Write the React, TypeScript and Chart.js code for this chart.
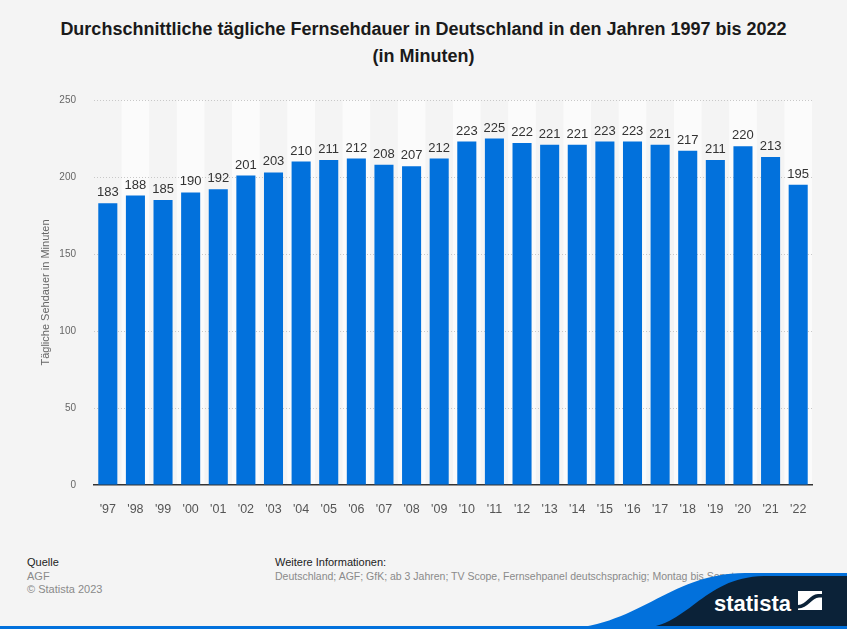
import React, { useEffect, useRef } from "react";
import { Chart, registerables } from "chart.js";

Chart.register(...registerables);

const years: string[] = ["'97", "'98", "'99", "'00", "'01", "'02", "'03", "'04", "'05", "'06", "'07", "'08", "'09", "'10", "'11", "'12", "'13", "'14", "'15", "'16", "'17", "'18", "'19", "'20", "'21", "'22"];
const minutes: number[] = [183, 188, 185, 190, 192, 201, 203, 210, 211, 212, 208, 207, 212, 223, 225, 222, 221, 221, 223, 223, 221, 217, 211, 220, 213, 195];
const yTicks: number[] = [0, 50, 100, 150, 200, 250];

const titleLines: string[] = [
  "Durchschnittliche tägliche Fernsehdauer in Deutschland in den Jahren 1997 bis 2022",
  "(in Minuten)",
];
const yAxisTitle = "Tägliche Sehdauer in Minuten";

const FONT = "'Liberation Sans', Arial, Helvetica, sans-serif";
const BLUE = "#0271dc";
const NAVY = "#0b2238";

const stripePlugin = {
  id: "stripes",
  beforeDraw(chart: any) {
    const { ctx, chartArea } = chart;
    const x = chart.scales.x;
    const n = years.length;
    const w = (chartArea.right - chartArea.left) / n;
    ctx.save();
    ctx.fillStyle = "#fbfbfb";
    for (let i = 1; i < n; i += 2) {
      const cx = x.getPixelForValue(i);
      ctx.fillRect(cx - w / 2, chartArea.top, w, chartArea.bottom - chartArea.top);
    }
    ctx.restore();
  },
};

const labelPlugin = {
  id: "valueLabels",
  afterDatasetsDraw(chart: any) {
    const { ctx } = chart;
    const meta = chart.getDatasetMeta(0);
    ctx.save();
    ctx.font = `13px ${FONT}`;
    ctx.fillStyle = "#333333";
    ctx.textAlign = "center";
    ctx.textBaseline = "bottom";
    meta.data.forEach((el: any, i: number) => {
      ctx.fillText(String(minutes[i]), el.x, el.y - 4);
    });
    ctx.restore();
  },
};

export default function App() {
  const ref = useRef<HTMLCanvasElement>(null);

  useEffect(() => {
    if (!ref.current) return;
    const chart = new Chart(ref.current, {
      type: "bar",
      data: {
        labels: years,
        datasets: [
          {
            data: minutes,
            backgroundColor: BLUE,
            borderWidth: 0,
            categoryPercentage: 1,
            barPercentage: 0.69,
          },
        ],
      },
      options: {
        animation: false,
        responsive: false,
        devicePixelRatio: 1,
        layout: { padding: { top: 100, right: 35, bottom: 0, left: 39 } },
        plugins: {
          legend: { display: false },
          tooltip: { enabled: false },
          title: { display: false },
        },
        scales: {
          x: {
            grid: { display: false },
            border: { display: true, color: "#333333", width: 1.5 },
            ticks: {
              color: "#555555",
              font: { family: FONT, size: 12.5 },
              padding: 9,
              maxRotation: 0,
              autoSkip: false,
            },
            afterFit(scale: any) {
              scale.height = 55;
            },
          },
          y: {
            min: 0,
            max: 250,
            afterBuildTicks(scale: any) {
              scale.ticks = yTicks.map((v) => ({ value: v }));
            },
            grid: {
              drawTicks: false,
              color: (c: any) => (c.tick && c.tick.value === 0 ? "rgba(0,0,0,0)" : "#c8c8c8"),
              lineWidth: 1,
            },
            border: { display: false, dash: [1, 2] },
            ticks: {
              color: "#666666",
              font: { family: FONT, size: 10 },
              padding: 18,
            },
            title: {
              display: true,
              text: yAxisTitle,
              color: "#666666",
              font: { family: FONT, size: 11 },
              padding: { top: 0, bottom: 0 },
            },
            afterFit(scale: any) {
              scale.width = 55;
            },
          },
        },
      },
      plugins: [stripePlugin, labelPlugin],
    });
    return () => chart.destroy();
  }, []);

  return (
    <div
      style={{
        position: "absolute",
        left: 0,
        top: 0,
        width: 847,
        height: 629,
        background: "#f4f4f4",
        overflow: "hidden",
        fontFamily: FONT,
      }}
    >
      <div
        style={{
          position: "absolute",
          left: 0,
          top: 16,
          width: 847,
          textAlign: "center",
          fontWeight: "bold",
          fontSize: 18,
          lineHeight: "27px",
          color: "#1a1a1a",
        }}
      >
        {titleLines.map((l, i) => (
          <div key={i}>{l}</div>
        ))}
      </div>
      <canvas
        ref={ref}
        width={847}
        height={540}
        style={{ position: "absolute", left: 0, top: 0, width: 847, height: 540 }}
      />
      <div style={{ position: "absolute", left: 27, top: 556, fontSize: 11, lineHeight: "13.5px" }}>
        <div style={{ color: "#222222" }}>Quelle</div>
        <div style={{ color: "#8a8a8a" }}>AGF</div>
        <div style={{ color: "#8a8a8a" }}>© Statista 2023</div>
      </div>
      <div style={{ position: "absolute", left: 275, top: 556, fontSize: 11, lineHeight: "13.5px", whiteSpace: "nowrap" }}>
        <div style={{ color: "#222222" }}>Weitere Informationen:</div>
        <div style={{ color: "#8a8a8a", fontSize: 10.5 }}>
          Deutschland; AGF; GfK; ab 3 Jahren; TV Scope, Fernsehpanel deutschsprachig; Montag bis Sonntag
        </div>
      </div>
      <svg
        style={{ position: "absolute", left: 0, top: 560 }}
        width={847}
        height={69}
        viewBox="0 560 847 69"
      >
        <path d="M 555 629 C 640 629, 665 574, 745 573 L 847 573 L 847 629 Z" fill={BLUE} />
        <path d="M 635 629 C 690 629, 700 577, 765 576 L 847 576 L 847 629 Z" fill={NAVY} />
        <rect x={0} y={626} width={847} height={3} fill={BLUE} />
        <text x={714} y={611} fill="#ffffff" fontFamily={FONT} fontWeight="bold" fontSize={22}>
          statista
        </text>
        <rect x={798} y={591} width={24} height={19} fill="#ffffff" />
        <path
          d="M 798 605 C 806 605, 810 594, 818 594 L 822 594 L 822 597.5 L 819 597.5 C 812 597.5, 808 608.5, 798 608.5 Z"
          fill={NAVY}
        />
      </svg>
    </div>
  );
}
